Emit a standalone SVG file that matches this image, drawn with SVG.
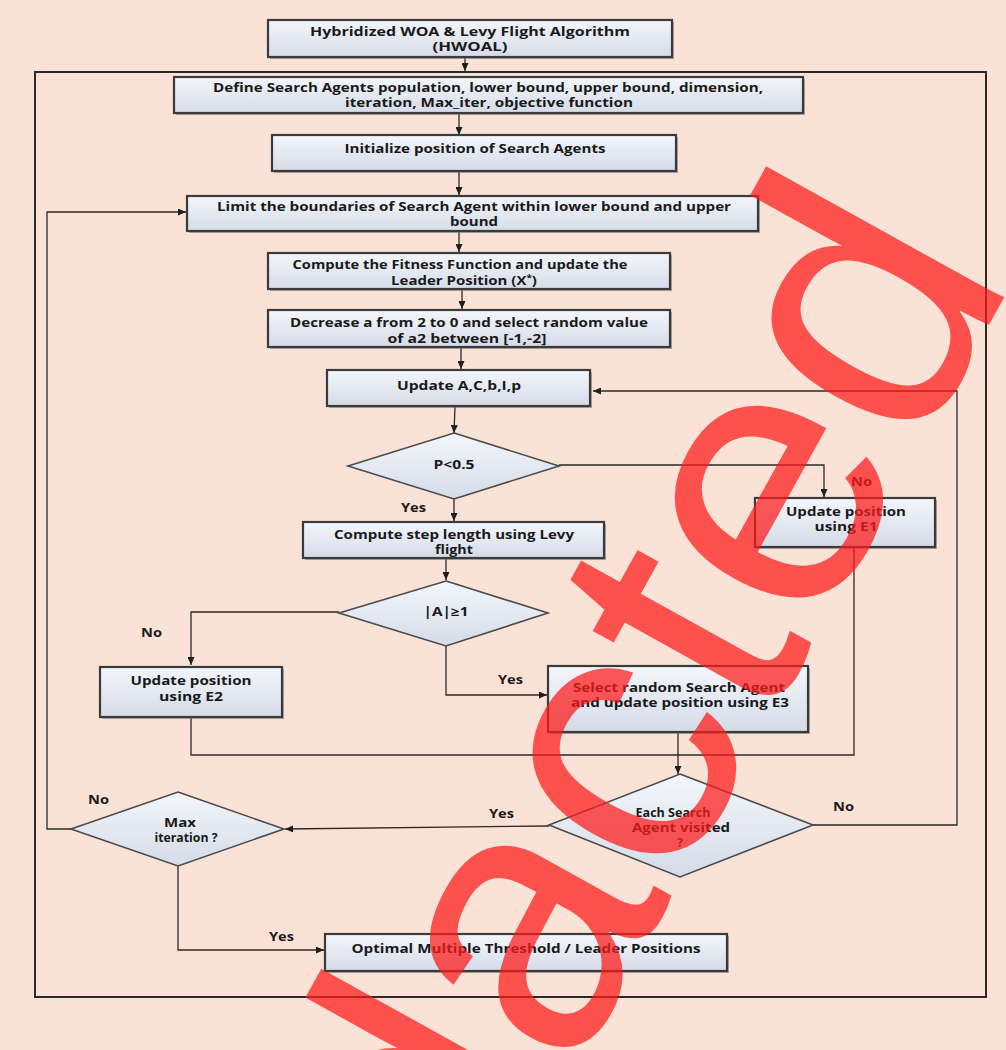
<svg xmlns="http://www.w3.org/2000/svg" width="1006" height="1050" viewBox="0 0 1006 1050">
<defs>
<linearGradient id="bg" x1="0" y1="0" x2="0" y2="1">
<stop offset="0" stop-color="#f3f6fb"/>
<stop offset="1" stop-color="#d5dce8"/>
</linearGradient>
<marker id="arr" markerWidth="8" markerHeight="7" refX="8" refY="3.5" orient="auto" markerUnits="userSpaceOnUse">
<path d="M0,0 L8,3.5 L0,7 z" fill="#1e1e1e"/>
</marker>
<style>
.box{fill:url(#bg);stroke:#3b3b3b;stroke-width:2.2}
.sh{fill:#7a7a7a;opacity:0.6}
.dia{fill:url(#bg);stroke:#4a4a4a;stroke-width:1.6}
.t{font-family:"Open Sans","Liberation Sans",sans-serif;font-weight:bold;font-size:12px;fill:#1a1a1a;text-anchor:middle}
.lbl{font-family:"Open Sans","Liberation Sans",sans-serif;font-weight:bold;font-size:12px;fill:#1a1a1a}
.c{fill:none;stroke:#2a2a2a;stroke-width:1.3}
.a{marker-end:url(#arr)}
</style>
</defs>
<rect x="0" y="0" width="1006" height="1050" fill="#fbe2d7"/>
<rect x="35" y="72" width="951" height="925" fill="none" stroke="#2a2a2a" stroke-width="2"/>

<g id="connectors">
<path class="c a" d="M465,57 V71"/>
<path class="c a" d="M459,113 V135"/>
<path class="c a" d="M459,172 V195"/>
<path class="c a" d="M459,231 V252"/>
<path class="c a" d="M462,289 V309"/>
<path class="c a" d="M461,347 V369"/>
<path class="c a" d="M455,406 L454,433"/>
<path class="c a" d="M559,465 H824 V497"/>
<path class="c a" d="M454,499 V521"/>
<path class="c a" d="M446,558 V580"/>
<path class="c a" d="M339,612 H191 V665"/>
<path class="c a" d="M446,646 V695 H547"/>
<path class="c" d="M191,717 V755 H854 V547"/>
<path class="c a" d="M678,732 V774"/>
<path class="c a" d="M549,826 L285,829"/>
<path class="c a" d="M813,825 H957 V391 H593"/>
<path class="c a" d="M71,829 H47 V212 H186"/>
<path class="c a" d="M178,866 V950 H324"/>
<text class="lbl" x="401" y="512" textLength="25" lengthAdjust="spacingAndGlyphs">Yes</text>
<text class="lbl" x="851" y="486" textLength="21" lengthAdjust="spacingAndGlyphs">No</text>
<text class="lbl" x="141" y="637" textLength="21" lengthAdjust="spacingAndGlyphs">No</text>
<text class="lbl" x="498" y="684" textLength="25" lengthAdjust="spacingAndGlyphs">Yes</text>
<text class="lbl" x="489" y="818" textLength="25" lengthAdjust="spacingAndGlyphs">Yes</text>
<text class="lbl" x="833" y="811" textLength="21" lengthAdjust="spacingAndGlyphs">No</text>
<text class="lbl" x="88" y="804" textLength="21" lengthAdjust="spacingAndGlyphs">No</text>
<text class="lbl" x="269" y="941" textLength="25" lengthAdjust="spacingAndGlyphs">Yes</text>
</g>

<g id="n1">
<rect class="sh" x="270" y="22" width="404" height="37"/>
<rect class="box" x="268" y="20" width="404" height="37"/>
<text class="t" x="470" y="36" textLength="320" lengthAdjust="spacingAndGlyphs">Hybridized WOA &amp; Levy Flight Algorithm</text>
<text class="t" x="470" y="51" textLength="75" lengthAdjust="spacingAndGlyphs">(HWOAL)</text>
</g>
<g id="n2">
<rect class="sh" x="176" y="79" width="629" height="36"/>
<rect class="box" x="174" y="77" width="629" height="36"/>
<text class="t" x="488" y="92" textLength="550" lengthAdjust="spacingAndGlyphs">Define Search Agents population, lower bound, upper bound, dimension,</text>
<text class="t" x="489" y="107" textLength="288" lengthAdjust="spacingAndGlyphs">iteration, Max_iter, objective function</text>
</g>
<g id="n3">
<rect class="sh" x="274" y="137" width="404" height="36"/>
<rect class="box" x="272" y="135" width="404" height="36"/>
<text class="t" x="475" y="153" textLength="261" lengthAdjust="spacingAndGlyphs">Initialize position of Search Agents</text>
</g>
<g id="n4">
<rect class="sh" x="189" y="198" width="571" height="35"/>
<rect class="box" x="187" y="196" width="571" height="35"/>
<text class="t" x="474" y="211" textLength="514" lengthAdjust="spacingAndGlyphs">Limit the boundaries of Search Agent within lower bound and upper</text>
<text class="t" x="474" y="226" textLength="48" lengthAdjust="spacingAndGlyphs">bound</text>
</g>
<g id="n5">
<rect class="sh" x="270" y="255" width="402" height="36"/>
<rect class="box" x="268" y="253" width="402" height="36"/>
<text class="t" x="460" y="269" textLength="335" lengthAdjust="spacingAndGlyphs">Compute the Fitness Function and update the</text>
<text class="t" transform="translate(464,285) scale(1.25,1)" x="0" y="0">Leader Position (X<tspan dy="-4" font-size="8">*</tspan><tspan dy="4">)</tspan></text>
</g>
<g id="n6">
<rect class="sh" x="270" y="312" width="402" height="37"/>
<rect class="box" x="268" y="310" width="402" height="37"/>
<text class="t" x="469" y="327" textLength="358" lengthAdjust="spacingAndGlyphs">Decrease a from 2 to 0 and select random value</text>
<text class="t" x="467" y="343" textLength="159" lengthAdjust="spacingAndGlyphs">of a2 between [-1,-2]</text>
</g>
<g id="n7">
<rect class="sh" x="329" y="372" width="263" height="36"/>
<rect class="box" x="327" y="370" width="263" height="36"/>
<text class="t" x="459" y="390" textLength="124" lengthAdjust="spacingAndGlyphs">Update A,C,b,I,p</text>
</g>
<g id="n8">
<polygon class="dia" points="454,433 559,466 454,499 348,466"/>
<text class="t" x="454" y="469" textLength="41" lengthAdjust="spacingAndGlyphs">P&lt;0.5</text>
</g>
<g id="n9">
<rect class="sh" x="757" y="500" width="180" height="49"/>
<rect class="box" x="755" y="498" width="180" height="49"/>
<text class="t" x="846" y="516" textLength="120" lengthAdjust="spacingAndGlyphs">Update position</text>
<text class="t" x="846" y="531" textLength="63" lengthAdjust="spacingAndGlyphs">using E1</text>
</g>
<g id="n10">
<rect class="sh" x="305" y="524" width="301" height="36"/>
<rect class="box" x="303" y="522" width="301" height="36"/>
<text class="t" x="454" y="539" textLength="240" lengthAdjust="spacingAndGlyphs">Compute step length using Levy</text>
<text class="t" x="454" y="554" textLength="38" lengthAdjust="spacingAndGlyphs">flight</text>
</g>
<g id="n11">
<polygon class="dia" points="446,581 548,613 446,646 339,613"/>
<text class="t" x="446" y="616" textLength="45" lengthAdjust="spacingAndGlyphs">|A|≥1</text>
</g>
<g id="n12">
<rect class="sh" x="102" y="669" width="182" height="50"/>
<rect class="box" x="100" y="667" width="182" height="50"/>
<text class="t" x="191" y="685" textLength="121" lengthAdjust="spacingAndGlyphs">Update position</text>
<text class="t" x="191" y="701" textLength="64" lengthAdjust="spacingAndGlyphs">using E2</text>
</g>
<g id="n13">
<rect class="sh" x="550" y="668" width="260" height="66"/>
<rect class="box" x="548" y="666" width="260" height="66"/>
<text class="t" x="679" y="692" textLength="212" lengthAdjust="spacingAndGlyphs">Select random Search Agent</text>
<text class="t" x="680" y="707" textLength="218" lengthAdjust="spacingAndGlyphs">and update position using E3</text>
</g>
<g id="n14">
<polygon class="dia" points="680,774 813,825 680,877 549,825"/>
<text class="t" x="673" y="817" textLength="75" lengthAdjust="spacingAndGlyphs">Each Search</text>
<text class="t" x="681" y="832" textLength="98" lengthAdjust="spacingAndGlyphs">Agent visited</text>
<text class="t" x="680" y="847">?</text>
</g>
<g id="n15">
<polygon class="dia" points="178,792 284,829 178,866 71,829"/>
<text class="t" x="180" y="827" textLength="32" lengthAdjust="spacingAndGlyphs">Max</text>
<text class="t" x="186" y="842" textLength="63" lengthAdjust="spacingAndGlyphs">iteration ?</text>
</g>
<g id="n16">
<rect class="sh" x="327" y="936" width="402" height="37"/>
<rect class="box" x="325" y="934" width="402" height="37"/>
<text class="t" x="526" y="953" textLength="349" lengthAdjust="spacingAndGlyphs">Optimal Multiple Threshold / Leader Positions</text>
</g>

<text transform="translate(1016,276) rotate(-61)" text-anchor="end" font-family="Liberation Sans, Arial, sans-serif" font-size="375" fill="#ff1a1a" opacity="0.72">Redacted</text>
</svg>
